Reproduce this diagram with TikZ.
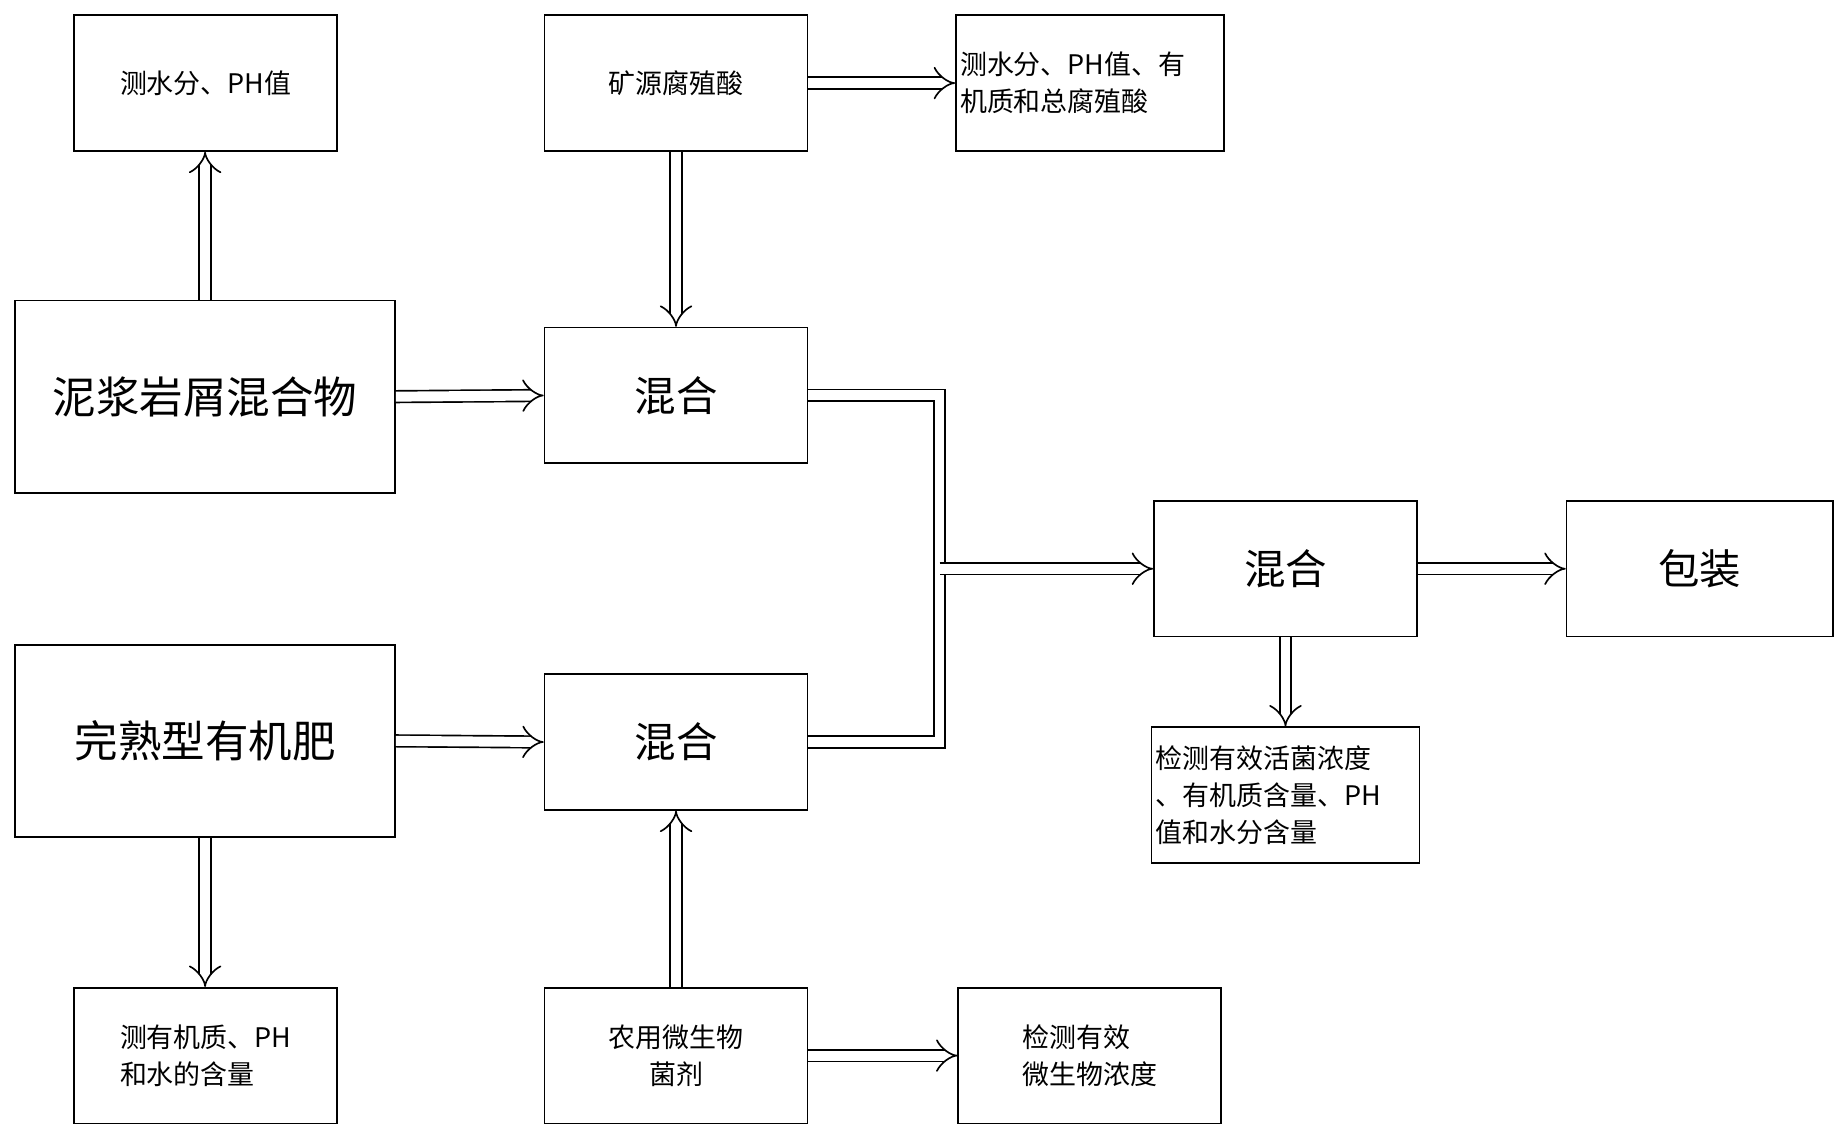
\documentclass[tikz,border=0pt]{standalone}
\usepackage{fontspec}
\setmainfont{Liberation Serif}
\newfontfamily\cjk{Noto Sans CJK SC}
\usetikzlibrary{arrows.meta}

\tikzset{
  box/.style={draw, thin, minimum width=2.23cm, minimum height=1.15cm, font=\cjk\fontsize{6.5}{9}\selectfont, inner sep=1pt},
  bigbox/.style={box, minimum width=3.22cm, minimum height=1.63cm, font=\cjk\fontsize{10.5}{12}\selectfont},
  mixbox/.style={box, font=\cjk\fontsize{10}{12}\selectfont},
  dbl/.style={draw=black, thin, double=white, double distance=2.4pt},
  dbla/.style={dbl, -{Implies[length=5pt]}}
}

\begin{document}
\begin{tikzpicture}[x=0.01cm,y=-0.01cm]
  \useasboundingbox (0,0) rectangle (1566,965);

  \node[box] (A) at (174.5,70.5) {测水分、PH值};
  \node[box] (B) at (573.5,70.5) {矿源腐殖酸};
  \node[box, align=left, text width=2.2cm] (C) at (924.5,70.5) {测水分、PH值、有\\机质和总腐殖酸};
  \node[bigbox] (D) at (174,336.5) {泥浆岩屑混合物};
  \node[mixbox] (E) at (573.5,335.5) {混合};
  \node[mixbox] (F) at (1090.5,482.5) {混合};
  \node[mixbox, minimum width=2.26cm] (G) at (1442,482.5) {包装};
  \node[bigbox] (H) at (174,628.5) {完熟型有机肥};
  \node[mixbox] (I) at (573.5,629.5) {混合};
  \node[box, align=left, text width=2.2cm] (J) at (1090.5,674.5) {检测有效活菌浓度\\、有机质含量、PH\\值和水分含量};
  \node[box, align=left] (K) at (174.5,895.5) {测有机质、PH\\和水的含量};
  \node[box, align=center] (L) at (573.5,895.5) {农用微生物\\菌剂};
  \node[box, align=left] (M) at (924.5,895.5) {检测有效\\微生物浓度};

  \coordinate (m) at (797,482.5);

  \path[dbla] (D.north) ++(0,0) -- (D.north |- A.south);
  \path[dbla] (B.east) -- (C.west);
  \path[dbla] (B.south) -- (E.north);
  \path[dbla] (D.east) -- (E.west);
  \path[dbla] (H.east) -- (I.west);
  \path[dbla] (H.south) -- (H.south |- K.north);
  \path[dbla] (L.north) -- (I.south);
  \path[dbla] (L.east) -- (M.west);
  \path[dbl] (E.east) -- (m |- E.east) -- (m |- I.east) -- (I.east);
  \path[dbla] (m) -- (F.west);
  \path[dbla] (F.east) -- (G.west);
  \path[dbla] (F.south) -- (J.north);
\end{tikzpicture}
\end{document}
